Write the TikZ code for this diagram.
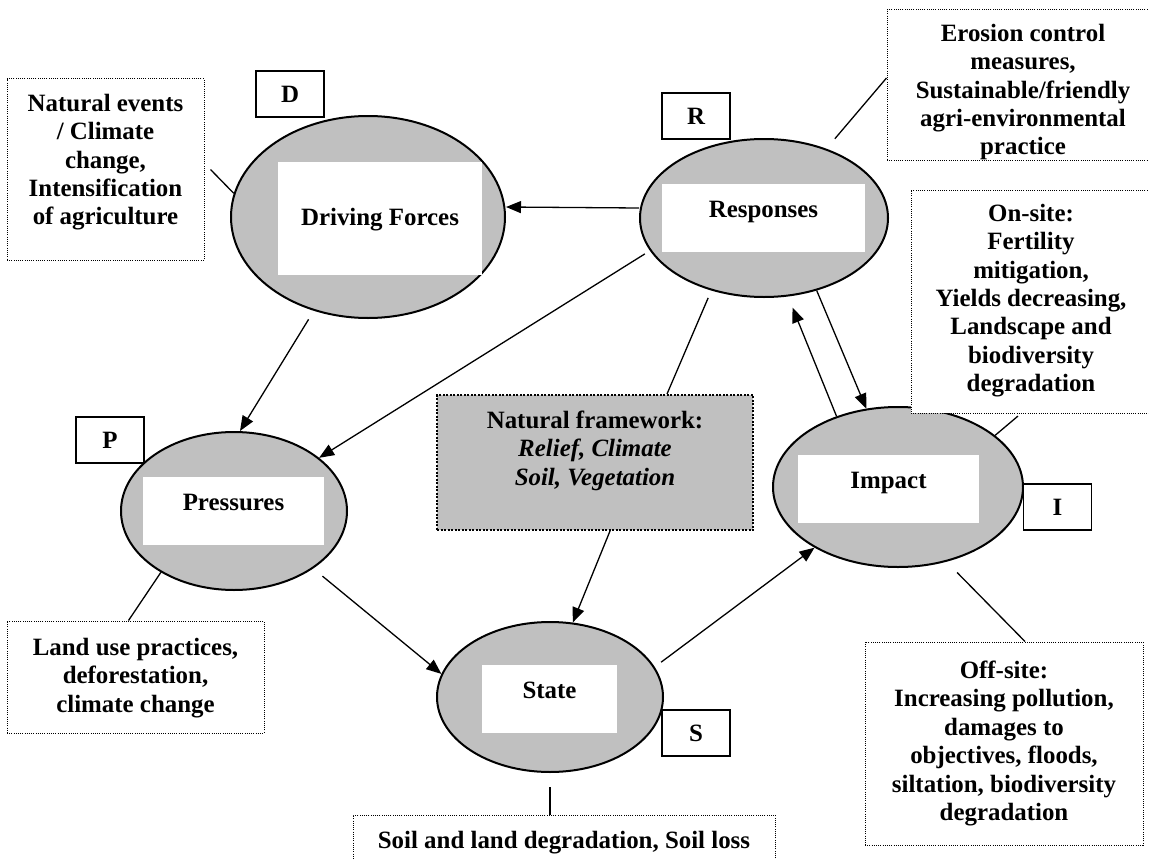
\documentclass[tikz,border=0pt]{standalone}
\usepackage{fontspec}
\setmainfont{Liberation Serif}
\usetikzlibrary{shapes.geometric,arrows.meta}
\definecolor{shade}{HTML}{C0C0C0}
% text of a dotted note: width, height, top gap, lines
\newcommand{\notetext}[4]{\parbox[c][#2][t]{#1}{\centering\vspace*{#3}#4}}

\begin{document}
\begin{tikzpicture}[x=1pt,y=1pt,line width=1.3pt,
    every node/.style={font=\fontsize{24.9}{28.4}\selectfont\bfseries}]
    \tikzstyle{stage}=[ellipse,draw,fill=shade,line width=2pt,inner sep=0pt]
    \tikzstyle{title box}=[rectangle,fill=white,inner sep=0pt,text height=17pt,text depth=19pt]
    \tikzstyle{letter}=[rectangle,draw,fill=white,line width=1.5pt,minimum width=68pt,minimum height=46pt]
    \tikzstyle{note}=[rectangle,draw,fill=white,line width=1pt,dash pattern=on 1pt off 1.2pt,inner sep=0pt]
    \tikzstyle{flow}=[-{Triangle[length=15pt,width=12pt]}]

    \useasboundingbox (0,0) rectangle (1149,-859);
    \fill[white] (0,0) rectangle (1149,-859);
    \clip (0,0) rectangle (1149,-859);

    % Draw the five stages
    \node[stage,minimum width=274pt,minimum height=202pt] (drv) at (368,-217) {};
    \node[stage,minimum width=248pt,minimum height=158pt] (rsp) at (764,-218) {};
    \node[stage,minimum width=226pt,minimum height=158pt] (prs) at (234,-511) {};
    \node[stage,minimum width=250pt,minimum height=160pt] (imp) at (898,-487) {};
    \node[stage,minimum width=226pt,minimum height=150pt] (sta) at (550,-697) {};

    % White titles inside the stages
    \node[title box,minimum width=204pt,minimum height=113pt,text depth=4pt] (drv-t) at (380,-218.5) {Driving Forces};
    \node[title box,minimum width=203pt,minimum height=68pt] (rsp-t) at (763.5,-218) {Responses};
    \node[title box,minimum width=181pt,minimum height=68pt] (prs-t) at (233.5,-511) {Pressures};
    \node[title box,minimum width=181pt,minimum height=68pt] (imp-t) at (888.5,-489) {Impact};
    \node[title box,minimum width=135pt,minimum height=68pt] (sta-t) at (549.5,-699) {State};

    % Draw the letter tags
    \foreach \name/\x/\y in {D/290/94, R/696/116, P/110/440, I/1057.5/507, S/696/733}
      \node[letter] (L-\name) at (\x,-\y) {\name};

    % Draw the dotted notes
    \node[note] (nat) at (105.5,-169.5) {\notetext{197pt}{181pt}{15pt}{Natural events\\/ Climate\\change,\\Intensification\\of agriculture}};
    \node[note] (ero) at (1023,-85) {\notetext{272pt}{150pt}{14pt}{Erosion control\\measures,\\Sustainable/friendly\\agri-environmental\\practice}};
    \node[note] (ons) at (1031,-301.5) {\notetext{240pt}{223pt}{14pt}{On-site:\\Fertility\\mitigation,\\Yields decreasing,\\Landscape and\\biodiversity\\degradation}};
    \node[note] (off) at (1004,-743.5) {\notetext{278pt}{203pt}{19pt}{Off-site:\\Increasing pollution,\\damages to\\objectives, floods,\\siltation, biodiversity\\degradation}};
    \node[note] (lnd) at (135.5,-677) {\notetext{257pt}{112pt}{17pt}{Land use practices,\\deforestation,\\climate change}};
    \node[note] (bot) at (564,-850) {\notetext{422pt}{70pt}{16pt}{Soil and land degradation, Soil loss}};
    \node[note,fill=shade,line width=2pt,dash pattern=on 2pt off 1.5pt] (nfw) at (595,-462.5) {\notetext{316pt}{135pt}{16pt}{Natural framework:\\\textit{Relief, Climate}\\\textit{Soil, Vegetation}}};

    % Links from the notes to the stages
    \draw (drv.170) -- ([xshift=6pt]nat.east);
    \draw[shorten <=13pt] (rsp.48) -- ([yshift=7pt]ero.west);
    \draw (prs.220) -- ([xshift=-7pt]lnd.north);
    \draw ([yshift=-14pt]sta.south) -- (sta.south |- bot.north);
    \draw[shorten <=15pt] (imp.-57) -- ([xshift=21pt]off.north);
    \draw[shorten >=4pt] (imp.28) -- ([xshift=-10pt]ons.south);
    \draw[shorten <=8pt] (rsp.234) -- ([xshift=72pt]nfw.north);

    % Arrows between the stages
    \draw[flow] ([yshift=10pt]rsp.west) -- ([yshift=10pt]drv.east);
    \draw[flow,shorten <=10pt] (drv.240) -- ([xshift=6pt]prs.north);
    \draw[flow,shorten <=6pt] (rsp.196) -- (prs.32);
    \draw[flow,shorten <=12pt] (prs.-36) -- (sta.168);
    \draw[flow] ([xshift=15pt]nfw.south) -- (sta.73);
    \draw[flow,shorten <=8pt] (sta.16) -- (imp.216);
    \draw[flow,shorten >=12pt] (imp.131) -- (rsp.287);
    \draw[flow] (rsp.-54) -- (imp.112);
\end{tikzpicture}
\end{document}
